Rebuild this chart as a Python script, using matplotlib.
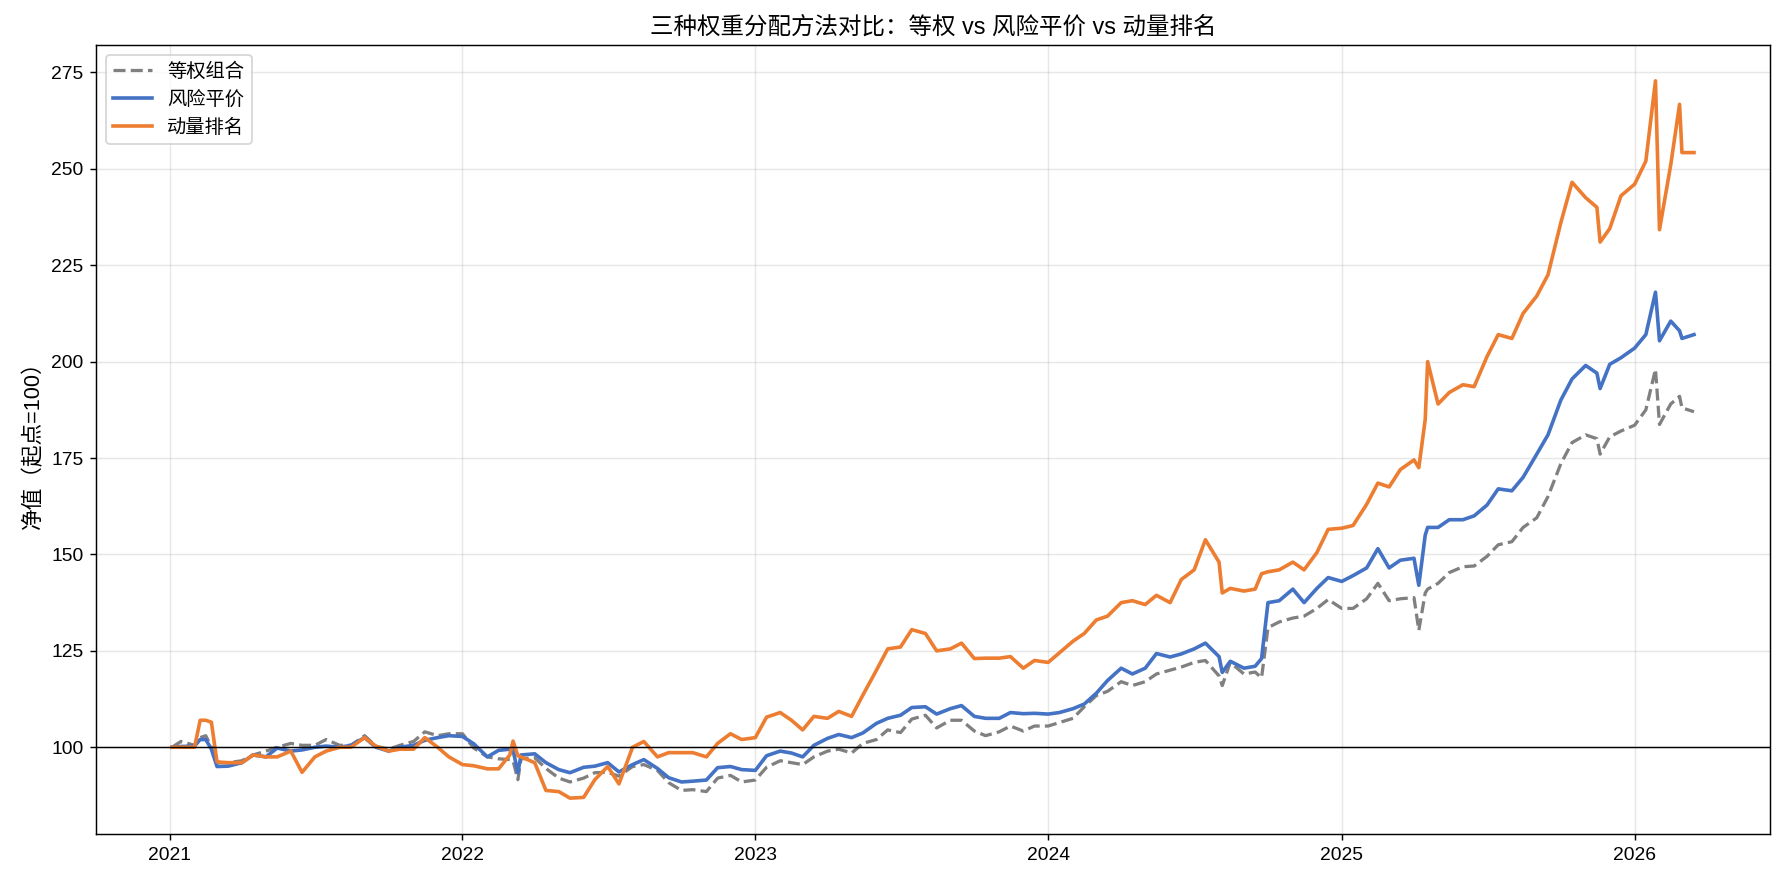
import numpy as np
import pandas as pd
import matplotlib
matplotlib.use("Agg")
import matplotlib.pyplot as plt

plt.rcParams['font.family'] = ['Liberation Sans', 'Noto Sans CJK SC', 'DejaVu Sans']
plt.rcParams['axes.unicode_minus'] = False

# 日期（约半月一个点，尖峰处加点）
dates = [
    '2021-01-04', '2021-01-15', '2021-02-01', '2021-02-08', '2021-02-15', '2021-02-22',
    '2021-03-01', '2021-03-15', '2021-04-01', '2021-04-15', '2021-05-01', '2021-05-15',
    '2021-06-01', '2021-06-15', '2021-07-01', '2021-07-15', '2021-08-01', '2021-08-15',
    '2021-09-01', '2021-09-15', '2021-10-01', '2021-10-15', '2021-11-01', '2021-11-15',
    '2021-12-01', '2021-12-15',
    '2022-01-01', '2022-01-15', '2022-02-01', '2022-02-15', '2022-03-01', '2022-03-05',
    '2022-03-11', '2022-03-15', '2022-04-01', '2022-04-15', '2022-05-01', '2022-05-15',
    '2022-06-01', '2022-06-15', '2022-07-01', '2022-07-15', '2022-08-01', '2022-08-15',
    '2022-09-01', '2022-09-15', '2022-10-01', '2022-10-15', '2022-11-01', '2022-11-15',
    '2022-12-01', '2022-12-15',
    '2023-01-01', '2023-01-15', '2023-02-01', '2023-02-15', '2023-03-01', '2023-03-15',
    '2023-04-01', '2023-04-15', '2023-05-01', '2023-05-15', '2023-06-01', '2023-06-15',
    '2023-07-01', '2023-07-15', '2023-08-01', '2023-08-15', '2023-09-01', '2023-09-15',
    '2023-10-01', '2023-10-15', '2023-11-01', '2023-11-15', '2023-12-01', '2023-12-15',
    '2024-01-01', '2024-01-15', '2024-02-01', '2024-02-15', '2024-03-01', '2024-03-15',
    '2024-04-01', '2024-04-15', '2024-05-01', '2024-05-15', '2024-06-01', '2024-06-15',
    '2024-07-01', '2024-07-15', '2024-08-01', '2024-08-05', '2024-08-15', '2024-09-01',
    '2024-09-15', '2024-09-23', '2024-10-01', '2024-10-15', '2024-11-01', '2024-11-15',
    '2024-12-01', '2024-12-15',
    '2025-01-01', '2025-01-15', '2025-02-01', '2025-02-15', '2025-03-01', '2025-03-15',
    '2025-04-01', '2025-04-07', '2025-04-15', '2025-04-18', '2025-05-01', '2025-05-15',
    '2025-06-01', '2025-06-15', '2025-07-01', '2025-07-15', '2025-08-01', '2025-08-15',
    '2025-09-01', '2025-09-15', '2025-10-01', '2025-10-15', '2025-11-01', '2025-11-15',
    '2025-11-19', '2025-12-01', '2025-12-15',
    '2026-01-01', '2026-01-15', '2026-01-27', '2026-02-01', '2026-02-15', '2026-02-26',
    '2026-03-01', '2026-03-16',
]

equal_weight = [
    100, 101.5, 100.5, 102.5, 103, 100,
    96, 96, 96.5, 98, 99, 100,
    101, 100.5, 100.5, 102, 100.5, 100.5,
    103, 100.3, 99.5, 100.5, 101.5, 104,
    103, 103.5,
    103.5, 99.8, 97.5, 97, 96.8, 96.5,
    91.6, 97, 97.3, 94.5, 92, 91,
    92, 93.4, 93.5, 92.5, 95, 95.5,
    94, 90.8, 88.8, 89, 88.5, 92,
    92.7, 91,
    91.5, 94.8, 96.5, 96, 95.5, 97.5,
    99, 99.5, 98.5, 101, 102, 104.5,
    103.8, 107.3, 108.3, 105, 107, 107,
    104.2, 103, 104, 105.5, 104.2, 105.5,
    105.5, 106.4, 107.5, 110.5, 113.4, 114.5,
    117, 116, 117, 119, 120, 120.8,
    122, 122.5, 118.5, 116, 122, 119,
    119.5, 118, 131, 132.5, 133.5, 134,
    136, 138.3,
    136, 136, 138.5, 142.5, 138, 138.5,
    138.8, 130.3, 140, 141, 142.5, 145.3,
    146.8, 147, 149.5, 152.5, 153.3, 157,
    159.5, 165, 173.5, 179, 181, 180,
    176, 180.5, 182,
    183.5, 187.5, 198, 183.7, 189, 191,
    188, 187,
]

risk_parity = [
    100, 100.2, 100.3, 102, 102, 99.5,
    95, 95.1, 96, 98, 97.5, 99.8,
    99, 99.3, 100, 100.3, 100, 100.5,
    102.5, 100, 99, 100, 100.5, 101.8,
    102.5, 103,
    102.8, 100.9, 97.5, 99.2, 99.5, 99.3,
    93.4, 98, 98.3, 96, 94.2, 93.4,
    94.8, 95.1, 96, 93.6, 95.5, 96.8,
    94.5, 92.1, 91, 91.2, 91.5, 94.7,
    95, 94.2,
    94, 97.8, 99, 98.5, 97.5, 100.5,
    102.3, 103.3, 102.5, 103.7, 106.2, 107.5,
    108.3, 110.3, 110.5, 108.6, 110, 110.8,
    108, 107.5, 107.5, 109, 108.7, 108.8,
    108.6, 109, 110, 111.2, 114, 117.3,
    120.5, 119, 120.5, 124.3, 123.4, 124.2,
    125.5, 127, 123.5, 119.4, 122.3, 120.5,
    121, 123, 137.5, 138, 141, 137.5,
    141.2, 144,
    143, 144.5, 146.5, 151.5, 146.5, 148.5,
    149, 142, 155, 157, 157, 159,
    159, 160, 162.8, 167, 166.5, 170,
    176, 181, 190, 195.5, 199, 197,
    193, 199.3, 201,
    203.5, 207, 218, 205.4, 210.5, 208,
    206, 207,
]

momentum = [
    100, 100, 100, 107, 107, 106.5,
    96.2, 96, 96, 98, 97.5, 97.5,
    99, 93.5, 97.5, 99, 100, 100,
    102.5, 100.3, 99, 99.5, 99.5, 102.5,
    100, 97.5,
    95.5, 95.2, 94.4, 94.4, 98, 101.6,
    97.8, 97.5, 96, 88.8, 88.5, 86.8,
    87, 91.6, 95, 90.5, 100, 101.5,
    97.5, 98.6, 98.6, 98.6, 97.5, 101,
    103.5, 102,
    102.5, 107.8, 109, 107, 104.5, 108,
    107.5, 109.3, 108, 113.5, 120, 125.5,
    126, 130.5, 129.5, 125, 125.5, 127,
    123, 123.1, 123.1, 123.5, 120.5, 122.5,
    122, 124.5, 127.5, 129.5, 133, 134,
    137.5, 138, 137, 139.4, 137.5, 143.5,
    146, 153.8, 148, 140, 141.2, 140.5,
    141, 145, 145.5, 146, 148, 146,
    150.5, 156.5,
    156.8, 157.5, 163, 168.5, 167.5, 172,
    174.5, 172.5, 185, 200, 189, 192,
    194, 193.5, 201.3, 207, 206, 212.5,
    217, 222.5, 236, 246.5, 242.5, 240,
    231, 234.5, 243,
    246, 252, 272.8, 234.2, 251, 266.7,
    254.2, 254.2,
]

labels = ['等权组合', '风险平价', '动量排名']
colors = ['#808080', '#4472C4', '#ED7D31']

x = pd.to_datetime(dates)

fig, ax = plt.subplots(figsize=(1784 / 130, 882 / 130), dpi=130)
fig.subplots_adjust(left=0.0538, right=0.9922, top=0.949, bottom=0.0544)

ax.plot(x, equal_weight, color=colors[0], linestyle='--', linewidth=1.8, label=labels[0])
ax.plot(x, risk_parity, color=colors[1], linewidth=2, label=labels[1])
ax.plot(x, momentum, color=colors[2], linewidth=2, label=labels[2])
ax.axhline(100, color='black', linewidth=0.8)

ax.set_title('三种权重分配方法对比：等权 vs 风险平价 vs 动量排名', fontsize=13)
ax.set_ylabel('净值（起点=100）', fontsize=12)
ax.tick_params(labelsize=10.7)
ax.grid(True, alpha=0.3)
ax.legend(loc='upper left', fontsize=10.7)

fig.savefig('out.png', dpi=130)
